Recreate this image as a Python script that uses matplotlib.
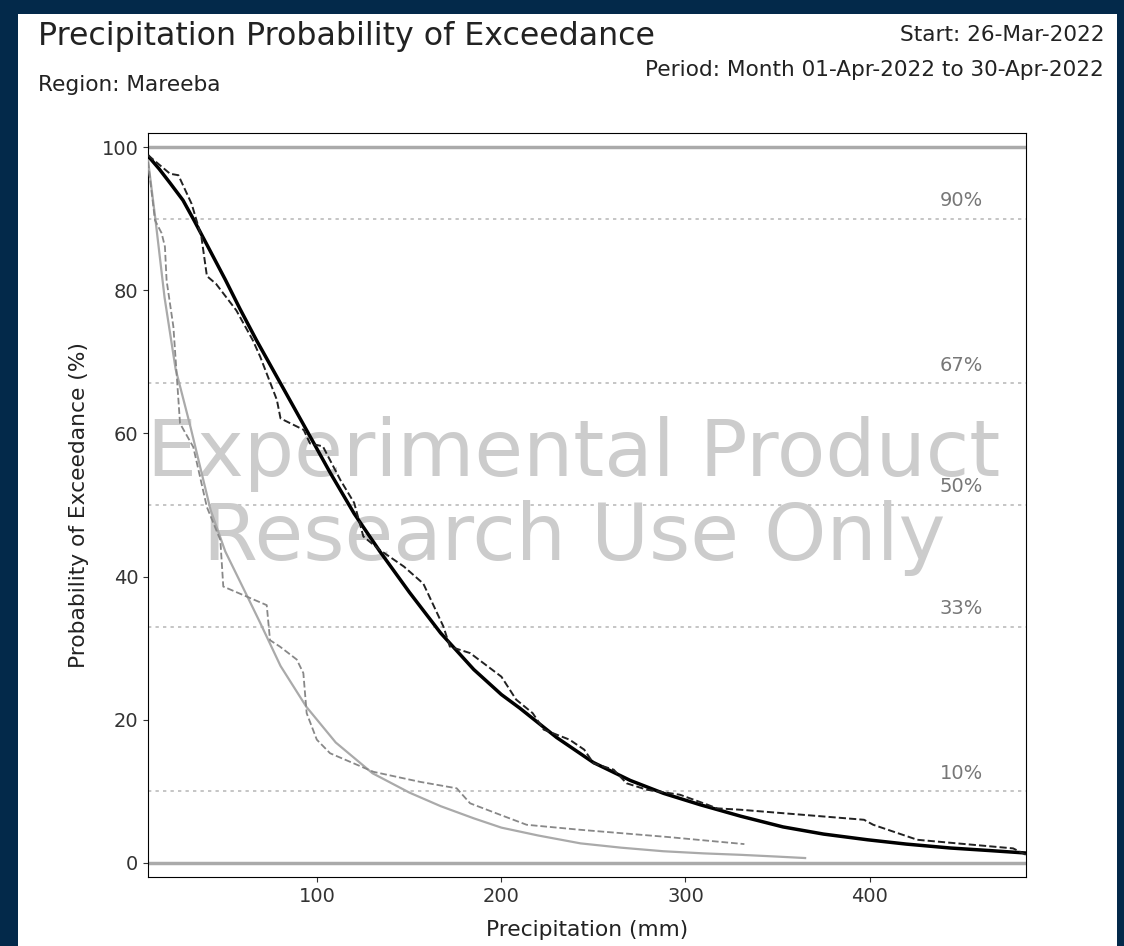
import matplotlib.pyplot as plt
from matplotlib.patches import Rectangle

# fitted curve, forecast (black solid)
fc_x = [8, 14, 20, 27, 33, 41, 50, 58, 67, 80, 93, 107, 120, 134, 150, 167, 185,
        200, 210, 230, 250, 270, 288, 308, 330, 353, 375, 399, 420, 444, 465, 485]
fc_y = [98.8, 97.0, 95.0, 92.6, 89.8, 85.9, 81.5, 77.4, 73.0, 67.0, 61.0, 54.5,
        48.8, 43.5, 37.8, 32.1, 27.0, 23.5, 21.6, 17.5, 14.0, 11.5, 9.7, 8.1, 6.5,
        5.0, 4.0, 3.2, 2.6, 2.05, 1.7, 1.35]

# empirical, forecast (black dashed)
fe_x = [8, 20, 24.5, 31.7, 37, 40, 45, 56, 65, 69, 78, 80, 92.6, 96, 103, 112.5,
        120, 125, 134, 147, 157.6, 168.5, 172, 183, 200, 208, 217, 223, 237, 245,
        250, 261, 268, 279, 297, 312, 317, 330, 397, 402, 426, 478, 485]
fe_y = [98.9, 96.3, 96.1, 92.1, 87.5, 82.0, 80.9, 77.2, 73.0, 70.7, 64.7, 62.1,
        60.5, 58.6, 58.2, 53.5, 50.3, 45.6, 43.7, 41.4, 39.0, 33.0, 30.2, 29.3,
        26.0, 22.8, 20.9, 18.6, 17.2, 15.8, 13.9, 13.0, 11.1, 10.2, 9.5, 8.1, 7.6,
        7.4, 6.0, 5.3, 3.2, 2.0, 1.1]

# fitted curve, climatology (grey solid)
cc_x = [8, 12, 17, 23, 31, 42, 50, 62, 69, 80, 94, 110, 130, 150, 167, 185, 200,
        220, 243, 265, 288, 310, 330, 350, 365]
cc_y = [98.2, 90.0, 79.0, 69.0, 61.0, 49.3, 43.5, 37.2, 33.5, 27.5, 21.8, 16.8,
        12.5, 9.8, 7.9, 6.2, 4.9, 3.8, 2.7, 2.1, 1.6, 1.3, 1.1, 0.85, 0.65]

# empirical, climatology (grey dashed)
ce_x = [8, 11.8, 15.4, 17.2, 18.1, 21.8, 25.4, 32.6, 40, 47.3, 48.9, 58, 72.5,
        74.3, 79.7, 88.8, 92.4, 94.2, 99.7, 106.9, 130.5, 155.8, 175.7, 183, 199.3,
        213.7, 242.8, 290, 332]
ce_y = [98.0, 89.8, 88.0, 86.1, 81.4, 74.9, 61.4, 58.1, 49.7, 45.1, 38.6, 37.6,
        36.0, 31.1, 30.2, 28.4, 26.5, 20.9, 17.2, 15.3, 12.7, 11.3, 10.4, 8.3, 6.7,
        5.3, 4.6, 3.6, 2.6]

levels = [90, 67, 50, 33, 10]

fig = plt.figure(figsize=(11.24, 9.46), dpi=100, facecolor='#03294a')
fig.patches.append(Rectangle((18 / 1124, 0), 1099 / 1124, 932 / 946,
                             transform=fig.transFigure, facecolor='white',
                             edgecolor='none', zorder=-10))

fig.text(38 / 1124, 1 - 37 / 946, 'Precipitation Probability of Exceedance',
         fontsize=22.8, color='#222222', va='center', ha='left')
fig.text(38 / 1124, 1 - 85 / 946, 'Region: Mareeba',
         fontsize=15.6, color='#222222', va='center', ha='left')
fig.text(1104 / 1124, 1 - 35 / 946, 'Start: 26-Mar-2022',
         fontsize=15.6, color='#222222', va='center', ha='right')
fig.text(1104 / 1124, 1 - 70 / 946, 'Period: Month 01-Apr-2022 to 30-Apr-2022',
         fontsize=15.6, color='#222222', va='center', ha='right')

ax = fig.add_axes([148 / 1124, 69 / 946, 878 / 1124, 744 / 946])

ax.axhline(100, color='#aaaaaa', lw=2.5, zorder=1)
ax.axhline(0, color='#aaaaaa', lw=2.5, zorder=1)
for lv in levels:
    ax.axhline(lv, color='#bbbbbb', lw=1.2, ls=(0, (2, 2.5)), zorder=1)
    ax.text(450, lv + 1.2, f'{lv}%', color='#777777', fontsize=14,
            ha='center', va='bottom')

ax.text(0.485, 0.512, 'Experimental Product\nResearch Use Only',
        transform=ax.transAxes, fontsize=57, color='#cccccc',
        ha='center', va='center', linespacing=1.12, zorder=2)

ax.plot(cc_x, cc_y, color='#aaaaaa', lw=1.6, zorder=3)
ax.plot(ce_x, ce_y, color='#888888', lw=1.3, ls='--', zorder=3)
ax.plot(fc_x, fc_y, color='black', lw=2.5, zorder=4)
ax.plot(fe_x, fe_y, color='#222222', lw=1.4, ls='--', zorder=4)

ax.set_xlim(8, 485)
ax.set_ylim(-2, 102)
ax.set_xticks([100, 200, 300, 400])
ax.set_yticks([0, 20, 40, 60, 80, 100])
ax.tick_params(labelsize=14, colors='#333333')
ax.set_xlabel('Precipitation (mm)', fontsize=15.7, color='#222222', labelpad=10)
ax.set_ylabel('Probability of Exceedance (%)', fontsize=15.7, color='#222222',
              labelpad=9)

fig.savefig('out.png', dpi=100, facecolor=fig.get_facecolor())
